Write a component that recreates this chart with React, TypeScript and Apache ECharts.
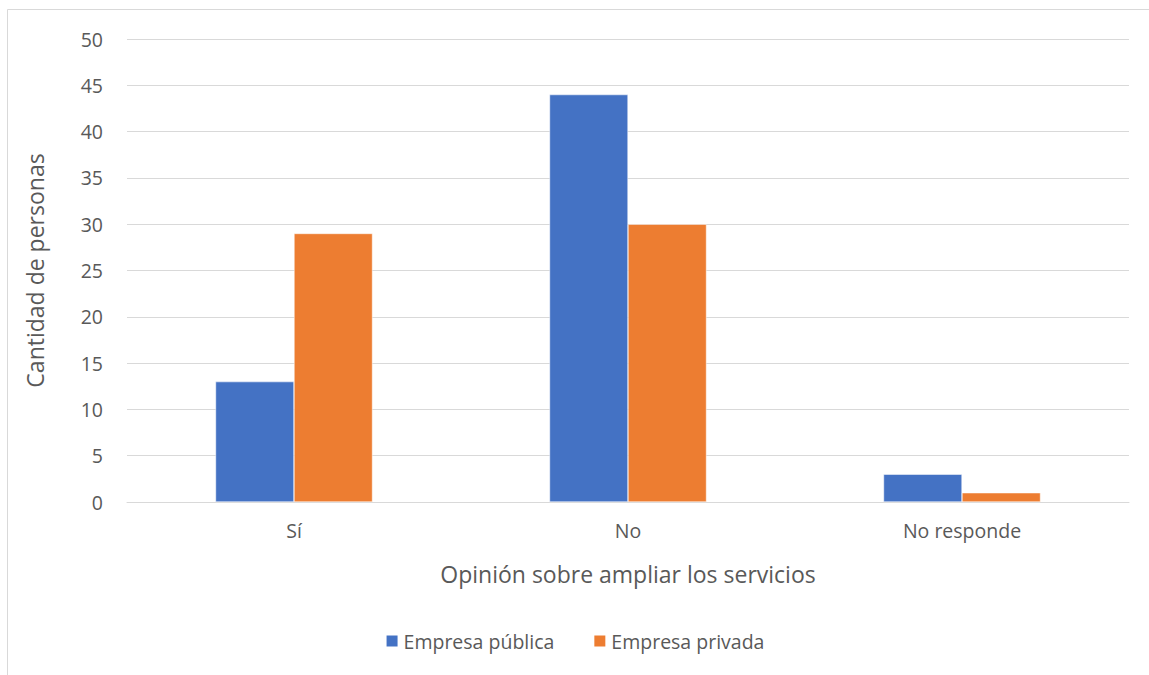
import React, { useEffect, useRef } from "react";
import * as echarts from "echarts";

const categories = ["Sí", "No", "No responde"];
const publica = [13, 44, 3];
const privada = [29, 30, 1];
const seriesNames = ["Empresa pública", "Empresa privada"];

const FONT = "'Open Sans', 'Noto Sans', sans-serif";
const TEXT = "#595959";

export default function App() {
  const ref = useRef<HTMLDivElement>(null);
  useEffect(() => {
    document.body.style.margin = "0";
    const chart = echarts.init(ref.current!, null, { renderer: "svg" });
    chart.setOption({
      animation: false,
      backgroundColor: "#ffffff",
      textStyle: { fontFamily: FONT, color: TEXT },
      graphic: [
        {
          type: "rect",
          shape: { x: 7.5, y: 9.5, width: 1200, height: 800 },
          style: { fill: "none", stroke: "#D9D9D9", lineWidth: 1 },
          silent: true,
        },
      ],
      grid: { left: 127, right: 20, top: 39, bottom: 173 },
      legend: {
        bottom: 19,
        left: "center",
        itemWidth: 13,
        itemHeight: 13,
        itemGap: 38,
        itemTextGap: 7,
        icon: "rect",
        textStyle: { fontFamily: FONT, fontSize: 19.5, color: TEXT },
        data: seriesNames,
      },
      xAxis: {
        type: "category",
        data: categories,
        name: "Opinión sobre ampliar los servicios",
        nameLocation: "middle",
        nameGap: 60,
        nameTextStyle: { fontFamily: FONT, fontSize: 23, color: TEXT },
        axisLine: { show: true, lineStyle: { color: "#D9D9D9", width: 1 } },
        axisTick: { show: false },
        axisLabel: { fontFamily: FONT, fontSize: 19.5, color: TEXT, margin: 18 },
      },
      yAxis: {
        type: "value",
        min: 0,
        max: 50,
        interval: 5,
        name: "Cantidad de personas",
        nameLocation: "middle",
        nameGap: 81,
        nameTextStyle: { fontFamily: FONT, fontSize: 23, color: TEXT },
        axisLine: { show: false },
        axisTick: { show: false },
        splitLine: { lineStyle: { color: "#D9D9D9", width: 1 } },
        axisLabel: { fontFamily: FONT, fontSize: 19.5, color: TEXT, margin: 24 },
      },
      series: [
        {
          name: seriesNames[0],
          type: "bar",
          data: publica,
          barGap: "0%",
          barCategoryGap: "53%",
          itemStyle: { color: "#4472C4", borderColor: "#ffffff", borderWidth: 0.5 },
        },
        {
          name: seriesNames[1],
          type: "bar",
          data: privada,
          barGap: "0%",
          barCategoryGap: "53%",
          itemStyle: { color: "#ED7D31", borderColor: "#ffffff", borderWidth: 0.5 },
        },
      ],
    });
    return () => chart.dispose();
  }, []);
  return (
    <div
      ref={ref}
      style={{ position: "absolute", left: 0, top: 0, width: 1149, height: 675 }}
    />
  );
}
